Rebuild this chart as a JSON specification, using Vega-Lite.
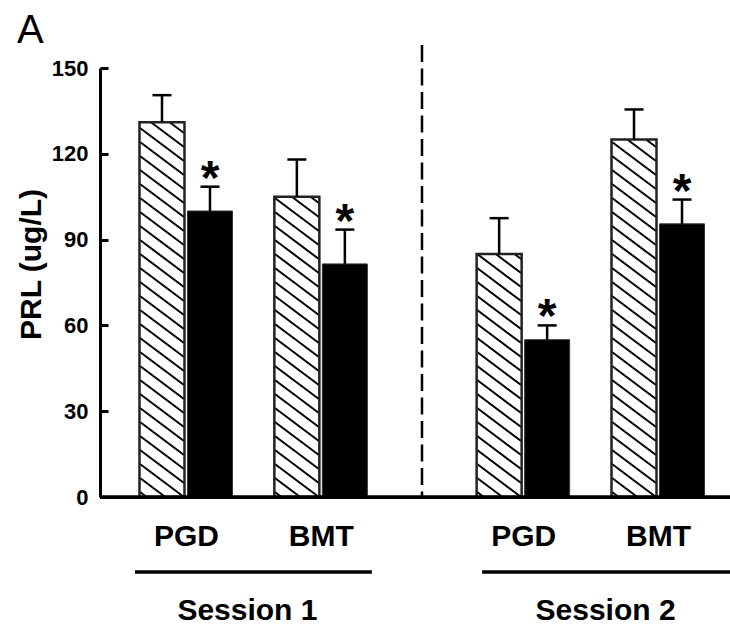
{
  "$schema": "https://vega.github.io/schema/vega-lite/v6.json",
  "width": 630,
  "height": 429,
  "autosize": {"type": "none"},
  "padding": {"left": 100, "top": 68, "right": 0, "bottom": 128},
  "background": "white",
  "config": {"view": {"stroke": null}, "font": "Liberation Sans"},
  "title": {"text": "A", "anchor": "start", "frame": "group", "fontSize": 40, "fontWeight": "normal", "color": "black", "dx": -83, "dy": 41, "offset": 2, "baseline": "alphabetic"},
  "datasets": {
    "bars": [
      {"session": "Session 1", "test": "S1 PGD", "condition": "control", "mean": 131, "upper": 140.5},
      {"session": "Session 1", "test": "S1 PGD", "condition": "treated", "mean": 100, "upper": 108.5, "sig": "*"},
      {"session": "Session 1", "test": "S1 BMT", "condition": "control", "mean": 105, "upper": 118},
      {"session": "Session 1", "test": "S1 BMT", "condition": "treated", "mean": 81.5, "upper": 93.5, "sig": "*"},
      {"session": "Session 2", "test": "S2 PGD", "condition": "control", "mean": 85, "upper": 97.5},
      {"session": "Session 2", "test": "S2 PGD", "condition": "treated", "mean": 55, "upper": 60, "sig": "*"},
      {"session": "Session 2", "test": "S2 BMT", "condition": "control", "mean": 125, "upper": 135.5},
      {"session": "Session 2", "test": "S2 BMT", "condition": "treated", "mean": 95.5, "upper": 104, "sig": "*"}
    ],
    "sessions": [
      {"session": "Session 1", "first": "S1 PGD", "last": "S1 BMT", "mid": "S1 mid"},
      {"session": "Session 2", "first": "S2 PGD", "last": "S2 BMT", "mid": "S2 mid"}
    ]
  },
  "layer": [
    {
      "data": {"name": "bars"},
      "transform": [{"filter": "datum.condition === 'control'"}],
      "layer": [
        {
          "mark": {"type": "point", "shape": "M-22,-425L22,-392M-22,-411L22,-378M-22,-397L22,-364M-22,-383L22,-350M-22,-369L22,-336M-22,-355L22,-322M-22,-341L22,-308M-22,-327L22,-294M-22,-313L22,-280M-22,-299L22,-266M-22,-285L22,-252M-22,-271L22,-238M-22,-257L22,-224M-22,-243L22,-210M-22,-229L22,-196M-22,-215L22,-182M-22,-201L22,-168M-22,-187L22,-154M-22,-173L22,-140M-22,-159L22,-126M-22,-145L22,-112M-22,-131L22,-98M-22,-117L22,-84M-22,-103L22,-70M-22,-89L22,-56M-22,-75L22,-42M-22,-61L22,-28M-22,-47L22,-14M-22,-33L22,0M-22,-19L3.33,0M-22,-5L-15.33,0", "size": 4, "filled": false, "stroke": "black", "strokeWidth": 2, "opacity": 1, "xOffset": -24},
          "encoding": {
            "x": {"field": "test", "type": "nominal", "scale": {"type": "point", "domain": ["p1", "p2", "S1 PGD", "g1", "S1 mid", "g2", "S1 BMT", "g3", "g4", "divider", "g5", "g6", "S2 PGD", "g7", "S2 mid", "g8", "S2 BMT", "q1", "q2"], "padding": 0.343, "align": 0.8025, "round": false}},
            "y": {"datum": 0, "type": "quantitative"}
          }
        },
        {
          "mark": {"type": "bar", "fill": "white", "width": 49, "xOffset": -24},
          "encoding": {
            "x": {"field": "test", "type": "nominal", "scale": {"type": "point", "domain": ["p1", "p2", "S1 PGD", "g1", "S1 mid", "g2", "S1 BMT", "g3", "g4", "divider", "g5", "g6", "S2 PGD", "g7", "S2 mid", "g8", "S2 BMT", "q1", "q2"], "padding": 0.343, "align": 0.8025, "round": false}},
            "y": {"field": "mean", "type": "quantitative"},
            "y2": {"datum": 150}
          }
        },
        {
          "mark": {"type": "bar", "fill": "white", "fillOpacity": 0, "stroke": "#222", "strokeWidth": 2.5, "width": 45, "xOffset": -24},
          "encoding": {
            "x": {"field": "test", "type": "nominal", "scale": {"type": "point", "domain": ["p1", "p2", "S1 PGD", "g1", "S1 mid", "g2", "S1 BMT", "g3", "g4", "divider", "g5", "g6", "S2 PGD", "g7", "S2 mid", "g8", "S2 BMT", "q1", "q2"], "padding": 0.343, "align": 0.8025, "round": false}},
            "y": {"field": "mean", "type": "quantitative"}
          }
        },
        {
          "mark": {"type": "rule", "color": "black", "strokeWidth": 2.5, "xOffset": -24},
          "encoding": {
            "x": {"field": "test", "type": "nominal", "scale": {"type": "point", "domain": ["p1", "p2", "S1 PGD", "g1", "S1 mid", "g2", "S1 BMT", "g3", "g4", "divider", "g5", "g6", "S2 PGD", "g7", "S2 mid", "g8", "S2 BMT", "q1", "q2"], "padding": 0.343, "align": 0.8025, "round": false}},
            "y": {"field": "mean", "type": "quantitative"},
            "y2": {"field": "upper"}
          }
        },
        {
          "mark": {"type": "tick", "orient": "horizontal", "size": 19, "thickness": 2.5, "color": "black", "opacity": 1, "xOffset": -24},
          "encoding": {
            "x": {"field": "test", "type": "nominal", "scale": {"type": "point", "domain": ["p1", "p2", "S1 PGD", "g1", "S1 mid", "g2", "S1 BMT", "g3", "g4", "divider", "g5", "g6", "S2 PGD", "g7", "S2 mid", "g8", "S2 BMT", "q1", "q2"], "padding": 0.343, "align": 0.8025, "round": false}},
            "y": {"field": "upper", "type": "quantitative"}
          }
        }
      ]
    },
    {
      "data": {"name": "bars"},
      "transform": [{"filter": "datum.condition === 'treated'"}],
      "layer": [
        {
          "mark": {"type": "bar", "color": "black", "stroke": "#333", "strokeWidth": 1, "width": 45, "xOffset": 24},
          "encoding": {
            "x": {
              "field": "test",
              "type": "nominal",
              "scale": {"type": "point", "domain": ["p1", "p2", "S1 PGD", "g1", "S1 mid", "g2", "S1 BMT", "g3", "g4", "divider", "g5", "g6", "S2 PGD", "g7", "S2 mid", "g8", "S2 BMT", "q1", "q2"], "padding": 0.343, "align": 0.8025, "round": false},
              "axis": {
                "title": null,
                "domain": true,
                "domainColor": "black",
                "domainWidth": 3,
                "ticks": false,
                "tickSize": 0,
                "labelFontSize": 30,
                "labelFontWeight": "bold",
                "labelColor": "black",
                "labelPadding": 48,
                "labelAlign": "center",
                "labelBaseline": "alphabetic",
                "labelAngle": 0,
                "labelOverlap": false,
                "labelExpr": "indexof(datum.label, 'PGD') >= 0 ? 'PGD' : (indexof(datum.label, 'BMT') >= 0 ? 'BMT' : '')"
              }
            },
            "y": {
              "field": "mean",
              "type": "quantitative",
              "scale": {"domain": [0, 150], "nice": false, "zero": true},
              "axis": {
                "title": "PRL (ug/L)",
                "values": [0, 30, 60, 90, 120, 150],
                "grid": false,
                "domainColor": "black",
                "domainWidth": 3,
                "tickColor": "black",
                "tickWidth": 3,
                "tickSize": -8,
                "labelFontSize": 22,
                "labelFontWeight": "bold",
                "labelColor": "black",
                "labelPadding": 20,
                "titleFontSize": 30,
                "titleFontWeight": "bold",
                "titleColor": "black",
                "titleAngle": -90,
                "titleAlign": "center",
                "titleBaseline": "alphabetic",
                "titleX": -60,
                "titleY": 196
              }
            }
          }
        },
        {
          "mark": {"type": "rule", "color": "black", "strokeWidth": 2.5, "xOffset": 24},
          "encoding": {
            "x": {"field": "test", "type": "nominal", "scale": {"type": "point", "domain": ["p1", "p2", "S1 PGD", "g1", "S1 mid", "g2", "S1 BMT", "g3", "g4", "divider", "g5", "g6", "S2 PGD", "g7", "S2 mid", "g8", "S2 BMT", "q1", "q2"], "padding": 0.343, "align": 0.8025, "round": false}},
            "y": {"field": "mean", "type": "quantitative"},
            "y2": {"field": "upper"}
          }
        },
        {
          "mark": {"type": "tick", "orient": "horizontal", "size": 19, "thickness": 2.5, "color": "black", "opacity": 1, "xOffset": 24},
          "encoding": {
            "x": {"field": "test", "type": "nominal", "scale": {"type": "point", "domain": ["p1", "p2", "S1 PGD", "g1", "S1 mid", "g2", "S1 BMT", "g3", "g4", "divider", "g5", "g6", "S2 PGD", "g7", "S2 mid", "g8", "S2 BMT", "q1", "q2"], "padding": 0.343, "align": 0.8025, "round": false}},
            "y": {"field": "upper", "type": "quantitative"}
          }
        },
        {
          "mark": {"type": "text", "fontSize": 48, "fontWeight": "bold", "color": "black", "baseline": "alphabetic", "align": "center", "dy": 7, "xOffset": 24},
          "encoding": {
            "x": {"field": "test", "type": "nominal", "scale": {"type": "point", "domain": ["p1", "p2", "S1 PGD", "g1", "S1 mid", "g2", "S1 BMT", "g3", "g4", "divider", "g5", "g6", "S2 PGD", "g7", "S2 mid", "g8", "S2 BMT", "q1", "q2"], "padding": 0.343, "align": 0.8025, "round": false}},
            "y": {"field": "upper", "type": "quantitative"},
            "text": {"field": "sig"}
          }
        }
      ]
    },
    {
      "data": {"values": [{"marker": "divider"}]},
      "mark": {"type": "rule", "color": "black", "strokeWidth": 2.5, "strokeDash": [17, 6.5]},
      "encoding": {
        "x": {"field": "marker", "type": "nominal", "scale": {"type": "point", "domain": ["p1", "p2", "S1 PGD", "g1", "S1 mid", "g2", "S1 BMT", "g3", "g4", "divider", "g5", "g6", "S2 PGD", "g7", "S2 mid", "g8", "S2 BMT", "q1", "q2"], "padding": 0.343, "align": 0.8025, "round": false}},
        "y": {"datum": 158, "type": "quantitative"},
        "y2": {"datum": 0}
      }
    },
    {
      "data": {"name": "sessions"},
      "transform": [{"filter": "datum.session === 'Session 1'"}],
      "layer": [
        {
          "mark": {"type": "rule", "color": "black", "strokeWidth": 3.5, "xOffset": -51, "x2Offset": 51, "yOffset": 75},
          "encoding": {
            "x": {"field": "first", "type": "nominal", "scale": {"type": "point", "domain": ["p1", "p2", "S1 PGD", "g1", "S1 mid", "g2", "S1 BMT", "g3", "g4", "divider", "g5", "g6", "S2 PGD", "g7", "S2 mid", "g8", "S2 BMT", "q1", "q2"], "padding": 0.343, "align": 0.8025, "round": false}},
            "x2": {"field": "last"},
            "y": {"datum": 0, "type": "quantitative"}
          }
        },
        {
          "mark": {"type": "text", "fontSize": 30, "fontWeight": "bold", "color": "black", "baseline": "alphabetic", "align": "center", "dy": 123, "dx": -6},
          "encoding": {
            "x": {"field": "mid", "type": "nominal", "scale": {"type": "point", "domain": ["p1", "p2", "S1 PGD", "g1", "S1 mid", "g2", "S1 BMT", "g3", "g4", "divider", "g5", "g6", "S2 PGD", "g7", "S2 mid", "g8", "S2 BMT", "q1", "q2"], "padding": 0.343, "align": 0.8025, "round": false}},
            "y": {"datum": 0, "type": "quantitative"},
            "text": {"field": "session"}
          }
        }
      ]
    },
    {
      "data": {"name": "sessions"},
      "transform": [{"filter": "datum.session === 'Session 2'"}],
      "layer": [
        {
          "mark": {"type": "rule", "color": "black", "strokeWidth": 3.5, "xOffset": -41, "x2Offset": 72, "yOffset": 75},
          "encoding": {
            "x": {"field": "first", "type": "nominal", "scale": {"type": "point", "domain": ["p1", "p2", "S1 PGD", "g1", "S1 mid", "g2", "S1 BMT", "g3", "g4", "divider", "g5", "g6", "S2 PGD", "g7", "S2 mid", "g8", "S2 BMT", "q1", "q2"], "padding": 0.343, "align": 0.8025, "round": false}},
            "x2": {"field": "last"},
            "y": {"datum": 0, "type": "quantitative"}
          }
        },
        {
          "mark": {"type": "text", "fontSize": 30, "fontWeight": "bold", "color": "black", "baseline": "alphabetic", "align": "center", "dy": 123, "dx": 15},
          "encoding": {
            "x": {"field": "mid", "type": "nominal", "scale": {"type": "point", "domain": ["p1", "p2", "S1 PGD", "g1", "S1 mid", "g2", "S1 BMT", "g3", "g4", "divider", "g5", "g6", "S2 PGD", "g7", "S2 mid", "g8", "S2 BMT", "q1", "q2"], "padding": 0.343, "align": 0.8025, "round": false}},
            "y": {"datum": 0, "type": "quantitative"},
            "text": {"field": "session"}
          }
        }
      ]
    },
    {
      "data": {"values": [{"baseline": 0}]},
      "mark": {"type": "rule", "color": "black", "strokeWidth": 3.5},
      "encoding": {
        "y": {"field": "baseline", "type": "quantitative"}
      }
    }
  ]
}
